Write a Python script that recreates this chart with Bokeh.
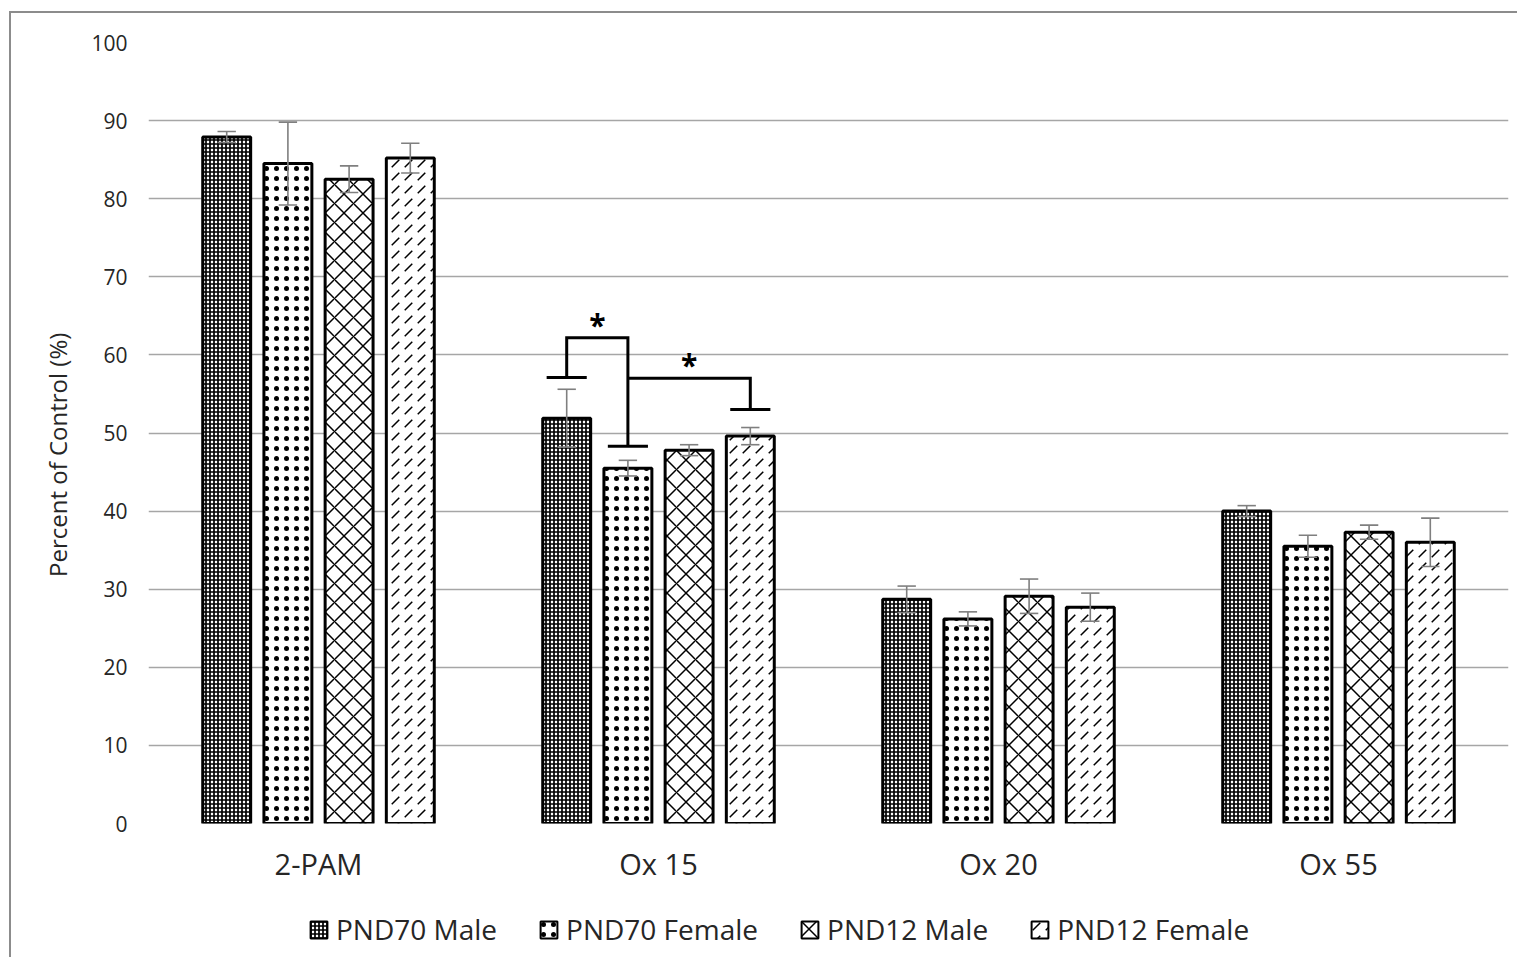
from bokeh.plotting import figure
from bokeh.layouts import column
from bokeh.models import ColumnDataSource, FixedTicker, Legend, LegendItem
from bokeh.core.properties import value
from bokeh.embed import file_html
from bokeh.resources import INLINE

# ---------------- data ----------------
groups = ["2-PAM", "Ox 15", "Ox 20", "Ox 55"]
series = ["PND70 Male", "PND70 Female", "PND12 Male", "PND12 Female"]

pnd70_male = [87.9, 51.9, 28.7, 40.0]
pnd70_male_err = [0.7, 3.7, 1.7, 0.7]
pnd70_female = [84.5, 45.5, 26.2, 35.5]
pnd70_female_err = [5.3, 1.0, 0.9, 1.4]
pnd12_male = [82.5, 47.8, 29.1, 37.3]
pnd12_male_err = [1.7, 0.7, 2.2, 0.9]
pnd12_female = [85.2, 49.6, 27.7, 36.0]
pnd12_female_err = [1.9, 1.1, 1.8, 3.1]

y_ticks = [0, 10, 20, 30, 40, 50, 60, 70, 80, 90, 100]

# significance brackets
bracket_group = ["Ox 15", "Ox 15"]
bracket_left = ["PND70 Male", "PND70 Female"]
bracket_right = ["PND70 Female", "PND12 Female"]
bracket_left_y = [57.1, 57.0]
bracket_top_y = [62.2, 57.0]
bracket_right_y = [48.3, 53.0]
bracket_label_y = [63.9, 58.8]
bracket_label = ["*", "*"]

# ---------------- styling ----------------
FONT = "Open Sans"
TEXT = "#262626"
offsets = [-0.27, -0.09, 0.09, 0.27]
bar_w = 0.141
cap_half = 0.027
tick_half = 0.059
hatch = [
    dict(hatch_pattern="cross", hatch_scale=4, hatch_weight=1.7),
    dict(hatch_pattern="dot", hatch_scale=10, hatch_weight=1),
    dict(hatch_pattern="diagonal_cross", hatch_scale=19, hatch_weight=1.5),
    dict(hatch_pattern="right_diagonal_dash", hatch_scale=13, hatch_weight=1.5),
]
values = [pnd70_male, pnd70_female, pnd12_male, pnd12_female]
errors = [pnd70_male_err, pnd70_female_err, pnd12_male_err, pnd12_female_err]

W = 1506
p = figure(width=W, height=872, x_range=(-0.5, len(groups) - 0.5), y_range=(0, 100),
           output_backend="svg", toolbar_location=None,
           min_border_left=137, min_border_right=9, min_border_top=29, min_border_bottom=60)
p.outline_line_color = None
p.background_fill_color = "white"

p.xgrid.grid_line_color = None
p.ygrid.grid_line_color = "#a6a6a6"
p.ygrid.grid_line_width = 1.3
p.ygrid.ticker = FixedTicker(ticks=y_ticks)

p.yaxis.ticker = FixedTicker(ticks=y_ticks)
p.yaxis.axis_line_color = None
p.yaxis.major_tick_line_color = None
p.yaxis.minor_tick_line_color = None
p.yaxis.major_label_standoff = 15
p.yaxis.major_label_text_font = FONT
p.yaxis.major_label_text_font_size = "21px"
p.yaxis.major_label_text_color = TEXT
p.yaxis.axis_label = "Percent of Control (%)" + "\u00a0" * 7
p.yaxis.axis_label_text_font = FONT
p.yaxis.axis_label_text_font_size = "24px"
p.yaxis.axis_label_text_font_style = "normal"
p.yaxis.axis_label_text_color = TEXT
p.yaxis.axis_label_standoff = 14

p.xaxis.ticker = FixedTicker(ticks=list(range(len(groups))))
p.xaxis.major_label_overrides = {i: g for i, g in enumerate(groups)}
p.xaxis.axis_line_color = None
p.xaxis.major_tick_line_color = None
p.xaxis.minor_tick_line_color = None
p.xaxis.major_label_standoff = 14
p.xaxis.major_label_text_font = FONT
p.xaxis.major_label_text_font_size = "29px"
p.xaxis.major_label_text_color = TEXT

# legend strip (separate figure below the chart; its frame aligns with the chart's frame)
lp = figure(width=W, height=72, x_range=(0, 1), y_range=(0, 1), x_axis_type=None,
            y_axis_type=None, output_backend="svg", toolbar_location=None,
            min_border=0, min_border_left=0, min_border_right=0,
            min_border_top=0, min_border_bottom=0)
lp.outline_line_color = None
lp.xgrid.visible = False
lp.ygrid.visible = False

idx = list(range(len(groups)))
items = []
for s, (name, vals, errs, off, h) in enumerate(zip(series, values, errors, offsets, hatch)):
    xs = [i + off for i in idx]
    src = ColumnDataSource(dict(x=xs, top=vals,
                                lo=[v - e for v, e in zip(vals, errs)],
                                hi=[v + e for v, e in zip(vals, errs)],
                                cl=[x - cap_half for x in xs],
                                cr=[x + cap_half for x in xs]))
    style = dict(fill_color="white", line_color="black", hatch_color="black", **h)
    p.vbar(x="x", top="top", bottom=0, width=bar_w, source=src, line_width=3, **style)
    p.segment(x0="x", y0="lo", x1="x", y1="hi", source=src, line_color="#7f7f7f", line_width=1.6)
    p.segment(x0="cl", y0="hi", x1="cr", y1="hi", source=src, line_color="#7f7f7f", line_width=1.6)
    p.segment(x0="cl", y0="lo", x1="cr", y1="lo", source=src, line_color="#7f7f7f", line_width=1.6)
    # legend proxy with the same style: a zero-size bar, so nothing shows in the strip
    lsrc = ColumnDataSource(dict(x=[0.5], top=[0.5], bottom=[0.5]))
    lr = lp.vbar(x="x", top="top", bottom="bottom", width=0, source=lsrc,
                 line_width=2, **style)
    items.append(LegendItem(label=name, renderers=[lr]))

# brackets
bx, by, tx0, tx1, ty, sx, sy = [], [], [], [], [], [], []
for g, a, b, ya, yt, yb, yl in zip(bracket_group, bracket_left, bracket_right,
                                    bracket_left_y, bracket_top_y, bracket_right_y, bracket_label_y):
    gi = groups.index(g)
    xa = gi + offsets[series.index(a)]
    xb = gi + offsets[series.index(b)]
    bx.append([xa, xa, xb, xb])
    by.append([ya, yt, yt, yb])
    if ya < yt:
        tx0.append(xa - tick_half); tx1.append(xa + tick_half); ty.append(ya)
    tx0.append(xb - tick_half); tx1.append(xb + tick_half); ty.append(yb)
    sx.append((xa + xb) / 2); sy.append(yl)

p.multi_line(xs=bx, ys=by, line_color="black", line_width=3, line_join="miter")
p.segment(x0=tx0, y0=ty, x1=tx1, y1=ty, line_color="black", line_width=3)
p.text(x=sx, y=sy, text=bracket_label, text_font=value(FONT), text_font_size="30px",
       text_font_style="bold", text_align="center", text_baseline="middle", text_color="black")

legend = Legend(items=items, orientation="horizontal", location=(160, 9),
                glyph_width=21, glyph_height=21, label_standoff=7, spacing=41,
                padding=0, margin=0, border_line_color=None, background_fill_alpha=0,
                label_text_font=FONT, label_text_font_size="28px", label_text_color=TEXT)
lp.add_layout(legend, "center")

layout = column(p, lp, spacing=0,
                styles={"border-left": "2px solid #8c8c8c", "border-top": "2px solid #8c8c8c",
                        "margin-top": "11px", "margin-left": "9px"})

open("out.html", "w").write(file_html(layout, INLINE))
